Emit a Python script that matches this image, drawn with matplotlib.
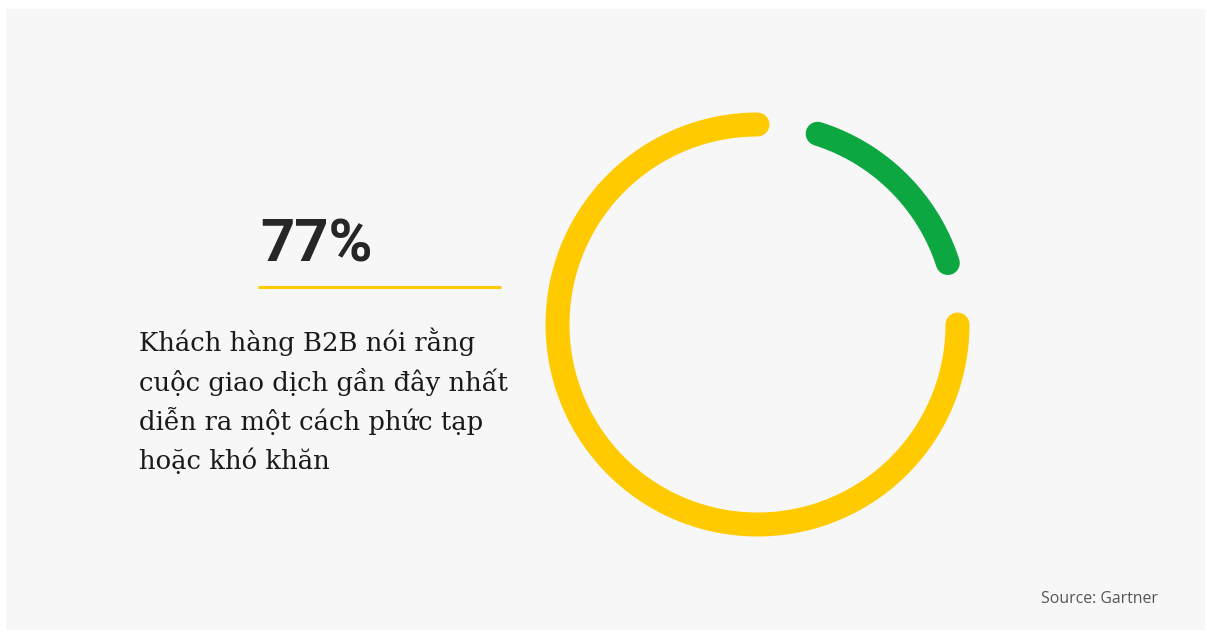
import numpy as np
import matplotlib
matplotlib.use("Agg")
import matplotlib.pyplot as plt
from matplotlib.patches import Rectangle

# ---- data ----
labels = ["Complex / difficult", "Other"]
values = [77, 23]
colors = ["#FFCB00", "#0CA741"]
# visual trims (degrees) at start/end of each arc (style)
trims = [(0.0, 7.2), (10.7, 17.5)]

headline = "77%"
body_lines = [
    "Khách hàng B2B nói rằng",
    "cuộc giao dịch gần đây nhất",
    "diễn ra một cách phức tạp",
    "hoặc khó khăn",
]
source = "Source: Gartner"

W, H = 1207, 632
fig = plt.figure(figsize=(W / 100, H / 100), dpi=100)
fig.patch.set_facecolor("white")

# background panel
bg = fig.add_axes([0, 0, 1, 1])
bg.set_xlim(0, W)
bg.set_ylim(H, 0)
bg.axis("off")
bg.add_patch(Rectangle((6, 9), 1199, 621, facecolor="#F7F7F7", edgecolor="none"))

# headline
bg.text(260, 262, headline, fontsize=43, fontweight="bold", family="Roboto",
        color="#262626", ha="left", va="baseline")
bg.plot([258, 501], [287, 287], color=colors[0], lw=2.2, solid_capstyle="butt")

# body text
for i, line in enumerate(body_lines):
    bg.text(139, 351 + i * 39.5, line, fontsize=18.6, family="DejaVu Serif",
            color="#1a1a1a", ha="left", va="baseline")

bg.text(1041, 603, source, fontsize=11.4, family="Open Sans", color="#555555",
        ha="left", va="baseline")

# donut ring
cx, cy, size = 757.5, 324.5, 500
ax = fig.add_axes([(cx - size / 2) / W, (H - cy - size / 2) / H, size / W, size / H])
ax.set_xlim(-1.25, 1.25)
ax.set_ylim(-1.25, 1.25)
ax.set_aspect("equal")
ax.axis("off")

total = float(sum(values))
start = 90.0
lw_pt = 24 * 72 / 100
for v, c, (t0, t1) in zip(values, colors, trims):
    span = v / total * 360.0
    a0 = start + t0
    a1 = start + span - t1
    th = np.radians(np.linspace(a0, a1, 400))
    ax.plot(np.cos(th), np.sin(th), color=c, lw=lw_pt, solid_capstyle="round")
    start += span

fig.savefig("out.png", dpi=100, facecolor=fig.get_facecolor())
